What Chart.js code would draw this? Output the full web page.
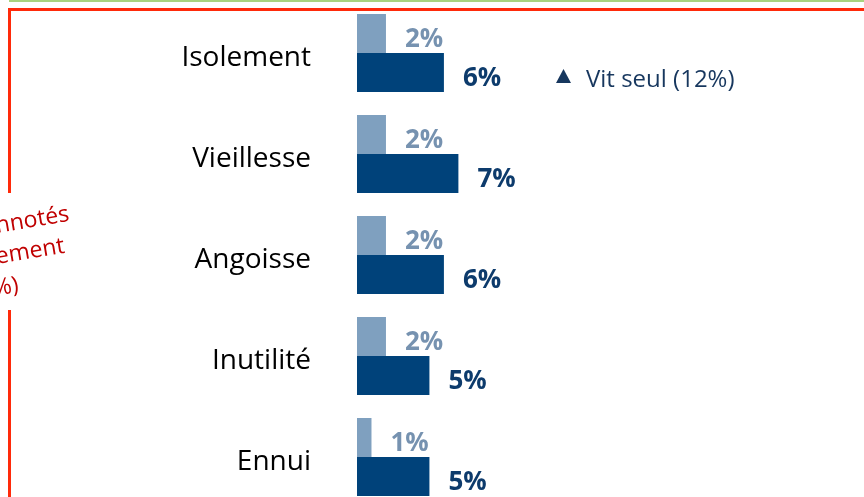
<!DOCTYPE html>
<html>
<head>
<meta charset="utf-8">
<script src="https://cdn.jsdelivr.net/npm/chart.js@4"></script>
<style>
  html, body { margin: 0; padding: 0; width: 864px; height: 497px; overflow: hidden; background: #fff; }
  #wrap { position: absolute; left: 0; top: 0; width: 864px; height: 508px; }
</style>
</head>
<body>
<div id="wrap"><canvas id="themesChart"></canvas></div>
<script>
// values (in %)
var categories = ['Isolement', 'Vieillesse', 'Angoisse', 'Inutilité', 'Ennui'];
var ensembleValues = [2, 2, 2, 2, 1];
var vitSeulValues = [6, 7, 6, 5, 5];
var valueSuffix = '%';
var legendText = 'Vit seul (12%)';
var sideNoteLines = ['nnotés', 'ement', '%)'];

var labelColors = ['#7692B0', '#0D3B6C'];

// value labels to the right of each bar
var valueLabels = {
  id: 'valueLabels',
  afterDatasetsDraw: function (chart) {
    var ctx = chart.ctx;
    ctx.save();
    ctx.font = 'bold 26px "Open Sans"';
    ctx.textAlign = 'left';
    ctx.textBaseline = 'middle';
    chart.data.datasets.forEach(function (ds, i) {
      var meta = chart.getDatasetMeta(i);
      ctx.fillStyle = labelColors[i];
      meta.data.forEach(function (bar, j) {
        ctx.fillText(ds.data[j] + valueSuffix, bar.x + 19, bar.y + 6);
      });
    });
    ctx.restore();
  }
};

// frame, side note and legend item
var decorations = {
  id: 'decorations',
  afterDraw: function (chart) {
    var ctx = chart.ctx;
    ctx.save();
    ctx.fillStyle = '#A9D37F';
    ctx.fillRect(9, 0, 855, 2);
    ctx.fillStyle = '#FF2A0A';
    ctx.fillRect(8, 8, 856, 3);
    ctx.fillRect(8, 8, 3, 185);
    ctx.fillRect(8, 310, 3, 200);

    // rotated red note, mostly cut by the left edge
    ctx.fillStyle = '#C00000';
    ctx.font = '23px "Open Sans"';
    ctx.textAlign = 'left';
    ctx.textBaseline = 'alphabetic';
    var baselines = [233, 264, 296];
    var starts = [-3, -3, -6];
    sideNoteLines.forEach(function (line, k) {
      ctx.save();
      ctx.translate(starts[k], baselines[k]);
      ctx.rotate(-9.5 * Math.PI / 180);
      ctx.fillText(line, 0, 0);
      ctx.restore();
    });

    // legend item
    ctx.fillStyle = '#17375E';
    ctx.beginPath();
    ctx.moveTo(556, 83);
    ctx.lineTo(563.5, 69);
    ctx.lineTo(571, 83);
    ctx.closePath();
    ctx.fill();
    ctx.font = '24px "Open Sans"';
    ctx.textBaseline = 'middle';
    ctx.fillText(legendText, 586, 80);
    ctx.restore();
  }
};

var el = document.getElementById('themesChart');
var themesChart = new Chart(el, {
  type: 'bar',
  data: {
    labels: categories,
    datasets: [{
      label: 'Ensemble',
      data: ensembleValues,
      backgroundColor: '#7FA0BF',
      borderWidth: 0
    }, {
      label: 'Vit seul',
      data: vitSeulValues,
      backgroundColor: '#00427A',
      borderWidth: 0
    }]
  },
  options: {
    indexAxis: 'y',
    responsive: true,
    maintainAspectRatio: false,
    animation: false,
    layout: { padding: { top: 2.5, bottom: 0.5, left: 0, right: 0 } },
    datasets: {
      bar: { categoryPercentage: 0.772, barPercentage: 1.0 }
    },
    plugins: {
      legend: { display: false },
      tooltip: { enabled: false }
    },
    scales: {
      x: {
        display: false,
        min: 0,
        max: 35
      },
      y: {
        grid: { display: false, drawTicks: false },
        border: { display: false },
        ticks: {
          color: '#000',
          padding: 46,
          labelOffset: 5,
          font: { family: '"Open Sans"', size: 28 }
        },
        afterFit: function (scale) {
          scale.width = 357;
          scale.paddingTop = 0;
          scale.paddingBottom = 0;
        }
      }
    }
  },
  plugins: [valueLabels, decorations]
});
</script>
</body>
</html>
